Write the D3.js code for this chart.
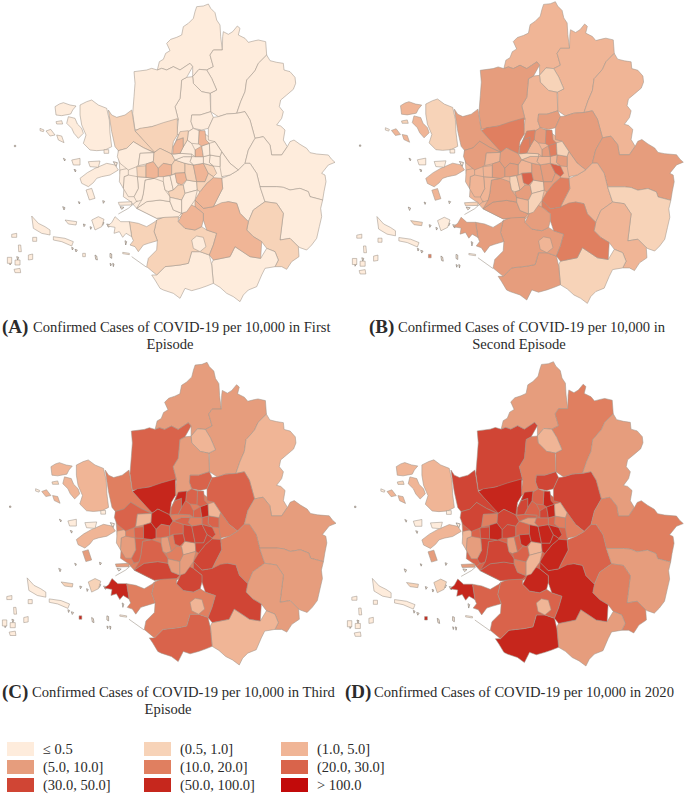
<!DOCTYPE html>
<html>
<head>
<meta charset="utf-8">
<script src="https://cdn.jsdelivr.net/npm/d3@7/dist/d3.min.js"></script>
<style>
html, body { margin: 0; padding: 0; background: #fff; }
text { font-family: "Liberation Serif", serif; fill: #2b2b2b; }
</style>
</head>
<body>
<svg id="chart" width="685" height="794">
  <defs><filter id="soft" x="-2%" y="-2%" width="104%" height="104%"><feGaussianBlur stdDeviation="0.4"></feGaussianBlur></filter></defs>
</svg>
<script>
// class breaks, lightest to darkest
const legendLabels = ["≤ 0.5", "(0.5, 1.0]", "(1.0, 5.0]", "(5.0, 10.0]", "(10.0, 20.0]", "(20.0, 30.0]", "(30.0, 50.0]", "(50.0, 100.0]", "> 100.0"];
const legendColors = ["#feecdc", "#f7d3b8", "#f0b596", "#e69d7d", "#e07f60", "#d9644b", "#d04534", "#c6271d", "#c20a0a"];

// district outlines (map units, drawn big to small)
const regionRings = [
  // metro underlay
  [[405,395],[465,455],[520,440],[540,395],[600,390],[645,425],[690,490],[665,535],[640,620],[585,620],[535,655],[470,655],[410,625],[392,605],[370,590],[372,560],[360,520],[355,450],[400,425]],
  // Yeoncheon
  [[472,210],[478,185],[490,178],[497,160],[510,152],[500,130],[512,118],[530,112],[545,105],[550,80],[565,70],[580,55],[585,35],[590,20],[610,18],[625,12],[632,25],[645,38],[650,60],[660,75],[662,110],[667,150],[640,150],[630,165],[640,200],[620,210],[597,208],[578,230],[578,200],[570,190],[555,200],[540,210],[520,200],[500,210],[485,205]],
  // Pocheon
  [[640,150],[667,150],[668,110],[670,95],[685,103],[698,95],[712,78],[720,85],[715,105],[735,115],[745,127],[765,122],[775,120],[797,125],[800,165],[775,190],[765,212],[745,235],[740,240],[735,275],[722,305],[710,340],[680,342],[655,350],[632,335],[632,285],[630,280],[650,270],[635,235],[620,210],[640,200],[630,165]],
  // Gapyeong
  [[800,165],[810,182],[830,187],[850,190],[852,210],[870,215],[885,232],[887,250],[880,268],[860,285],[842,300],[838,320],[850,335],[845,355],[830,375],[842,378],[855,390],[850,420],[862,440],[845,465],[815,465],[810,435],[790,410],[765,415],[750,360],[735,335],[710,340],[722,305],[735,275],[740,240],[745,235],[765,212],[775,190]],
  // Dongducheon
  [[597,208],[620,210],[635,235],[650,270],[630,280],[605,275],[580,250],[578,230]],
  // Yangju
  [[578,230],[580,250],[605,275],[630,280],[632,335],[600,345],[575,345],[573,365],[580,385],[565,395],[530,405],[535,360],[525,320],[540,295],[545,240],[560,232]],
  // Paju
  [[402,215],[440,210],[455,205],[472,210],[485,205],[500,210],[520,200],[540,210],[555,200],[570,190],[578,200],[560,232],[545,240],[540,295],[525,320],[535,360],[480,375],[455,380],[405,390],[398,340],[402,290],[405,250]],
  // Uijeongbu
  [[575,345],[600,345],[632,335],[640,352],[625,385],[605,390],[580,385],[573,365]],
  // Namyangju
  [[640,352],[655,350],[680,342],[710,340],[735,335],[750,360],[765,415],[745,450],[735,490],[715,510],[690,490],[665,455],[645,425],[625,420],[625,385]],
  // Goyang
  [[405,393],[420,385],[455,380],[490,368],[532,356],[532,405],[520,425],[515,462],[480,445],[462,458]],
  // Gimpo
  [[325,330],[335,345],[350,352],[375,345],[395,330],[405,393],[465,458],[430,443],[400,425],[380,445],[355,452],[345,440],[335,395]],
  // Yangpyeong
  [[790,410],[810,435],[815,465],[845,465],[862,440],[870,425],[882,420],[900,433],[920,445],[930,458],[950,462],[985,465],[995,478],[1005,487],[985,495],[965,520],[975,525],[978,545],[972,575],[968,600],[930,590],[925,575],[900,565],[870,570],[850,562],[830,560],[780,560],[770,520],[750,490],[735,490],[745,450],[765,415]],
  // Gwangju
  [[715,510],[735,490],[750,490],[770,520],[780,560],[795,605],[760,630],[745,665],[720,640],[710,610],[685,605],[640,620],[650,600],[668,565],[665,535],[690,525]],
  // Hanam
  [[665,455],[690,490],[715,510],[690,525],[665,530],[660,500],[660,470]],
  // Yeoju
  [[780,560],[830,560],[850,562],[870,570],[900,565],[925,575],[930,590],[968,600],[962,625],[965,650],[958,680],[950,715],[935,735],[920,750],[900,743],[895,740],[870,715],[840,720],[850,640],[830,610],[795,605]],
  // Icheon
  [[740,690],[745,665],[760,630],[795,605],[830,610],[850,640],[840,720],[870,715],[895,740],[897,770],[875,785],[860,808],[845,800],[825,800],[835,780],[825,755],[800,745],[785,725],[760,710]],
  // Anseong
  [[635,790],[640,780],[690,770],[705,740],[735,760],[750,770],[782,775],[800,745],[825,755],[835,780],[825,800],[795,805],[785,825],[770,860],[745,870],[730,885],[720,905],[700,890],[680,880],[660,862],[640,850]],
  // Pyeongtaek
  [[470,825],[495,800],[540,795],[565,790],[575,755],[600,755],[628,765],[635,795],[640,850],[620,858],[600,865],[575,872],[555,865],[540,895],[520,880],[490,870],[480,865],[465,840],[455,825]],
  // Hwaseong
  [[470,660],[495,650],[535,650],[535,665],[555,685],[585,690],[605,680],[620,690],[650,700],[640,735],[628,765],[600,755],[575,755],[565,790],[540,795],[495,800],[470,825],[440,800],[445,775],[470,750],[472,722],[462,695]],
  // Osan
  [[575,720],[590,708],[610,712],[618,740],[600,755],[580,745]],
  // Yongin
  [[585,600],[610,625],[640,620],[665,608],[685,605],[710,610],[720,640],[745,665],[740,690],[760,710],[785,725],[782,775],[750,770],[735,760],[705,740],[690,770],[640,780],[628,765],[640,735],[650,700],[620,690],[610,660],[610,640],[585,620]],
  // Seongnam
  [[640,533],[665,535],[668,565],[650,600],[640,620],[610,625],[585,600],[600,575],[620,550]],
  // Suwon
  [[555,620],[575,615],[585,620],[610,640],[610,660],[605,680],[585,690],[555,685],[535,665],[545,645]],
  // Ansan coast
  [[388,665],[415,670],[440,680],[465,665],[470,660],[462,695],[472,722],[445,730],[430,735],[415,755],[405,740],[390,735],[400,722],[395,710]],
  // Ansan
  [[410,625],[440,605],[480,600],[510,605],[520,630],[545,640],[535,650],[495,652],[470,655],[440,640]],
  // Siheung
  [[435,540],[462,535],[490,545],[495,570],[510,590],[510,605],[480,600],[440,605],[410,625],[425,600],[430,580]],
  // Namdong
  [[412,530],[438,532],[462,535],[435,540],[430,580],[425,600],[410,605],[402,590],[415,565]],
  // Yeonsu
  [[372,530],[385,525],[412,530],[415,565],[402,590],[385,590],[370,565]],
  // Jung-gu
  [[360,510],[385,505],[385,525],[372,530],[370,565],[358,545]],
  // Seo-gu
  [[355,452],[380,445],[400,425],[430,443],[462,458],[420,460],[415,495],[410,500],[385,510],[360,490],[352,470]],
  // Gyeyang
  [[420,460],[462,458],[460,485],[438,492],[415,497]],
  // Bupyeong
  [[410,500],[438,497],[438,532],[412,530]],
  // Bucheon
  [[438,492],[460,485],[475,505],[475,530],[462,535],[438,532]],
  // Gangseo
  [[462,458],[480,445],[515,462],[525,480],[515,495],[490,490],[475,505],[460,485]],
  // Guro
  [[475,505],[490,490],[515,495],[515,525],[490,530],[475,530]],
  // Yeongdeungpo
  [[515,495],[525,480],[555,490],[555,518],[525,520],[515,525]],
  // Gwangmyeong
  [[490,530],[510,527],[520,570],[505,575],[495,570],[490,545]],
  // Geumcheon
  [[510,527],[525,522],[535,555],[520,570]],
  // Gwanak
  [[525,520],[555,518],[560,540],[545,555],[530,548]],
  // Anyang
  [[520,570],[535,555],[550,555],[555,580],[545,600],[510,592],[505,575]],
  // Gunpo
  [[510,592],[545,600],[545,640],[520,630],[510,605]],
  // Gwacheon
  [[550,555],[560,540],[590,545],[592,570],[555,580]],
  // Uiwang
  [[555,580],[592,570],[585,600],[560,635],[545,640],[545,600]],
  // Seocho
  [[555,490],[580,495],[590,545],[560,540],[555,518]],
  // Gangnam
  [[580,495],[610,490],[625,520],[615,545],[590,545]],
  // Songpa
  [[610,490],[640,498],[650,520],[640,530],[625,520]],
  // Sujeong
  [[590,545],[615,545],[625,520],[640,530],[640,533],[620,550],[600,575],[592,570]],
  // Gangdong
  [[630,465],[660,470],[660,500],[640,498],[628,488]],
  // Gwangjin
  [[610,470],[630,465],[628,488],[640,498],[610,490]],
  // Seongdong
  [[575,470],[610,470],[610,490],[580,495],[570,485]],
  // Yongsan
  [[525,480],[550,470],[575,470],[570,485],[580,495],[555,490]],
  // Jongno
  [[515,462],[525,462],[540,460],[575,462],[575,470],[550,470],[525,480]],
  // Dongdaemun
  [[585,450],[605,438],[610,470],[585,470]],
  // Seongbuk
  [[550,440],[562,420],[575,430],[585,450],[585,470],[575,462],[540,460]],
  // Jungnang
  [[605,438],[628,430],[630,465],[610,470]],
  // Guri
  [[628,430],[645,425],[665,455],[660,470],[630,465]],
  // Nowon
  [[597,392],[615,392],[618,420],[628,430],[605,438],[595,432]],
  // Dobong
  [[565,395],[580,385],[597,392],[595,432],[575,430],[562,420]],
  // Deogyang
  [[520,440],[530,420],[550,413],[550,440],[540,460],[518,462]],
  // Eunpyeong
  [[540,395],[565,392],[562,420],[550,440],[550,413],[530,420]],
  // Ganghwa and the islands
  [[240,315],[260,305],[275,300],[295,315],[320,325],[328,360],[330,400],[335,440],[315,450],[290,452],[270,450],[250,430],[258,405],[245,375],[240,345]],
  [[165,320],[178,312],[190,308],[210,315],[228,318],[218,330],[212,342],[185,347],[168,345]],
  [[205,350],[225,355],[232,372],[245,385],[250,400],[235,415],[222,400],[215,385],[200,370]],
  [[240,535],[262,518],[285,505],[320,490],[345,495],[355,510],[330,525],[305,530],[290,535],[280,548],[265,560],[245,550]],
  [[258,570],[275,565],[285,595],[268,600]],
  [[345,650],[362,665],[388,665],[395,710],[378,700],[368,712],[358,695],[342,700],[345,682],[322,678],[335,668]],
  [[275,660],[295,650],[312,658],[305,680],[285,690]],
  [[95,648],[115,670],[135,680],[150,690],[150,705],[125,700],[100,685]],
  [[215,480],[240,475],[240,495],[220,495]],
  [[265,485],[300,483],[295,502],[270,500]],
  [[195,660],[230,665],[228,675],[205,672]],
  [[160,710],[195,715],[220,725],[215,738],[185,725],[160,720]],
  [[138,393],[152,388],[165,405],[150,408]],
  [[170,405],[185,408],[192,428],[175,420]],
  [[120,385],[132,390],[130,395],[120,392]],
  [[168,365],[185,362],[188,372],[170,372]],
  [[85,765],[98,762],[98,778],[85,780]],
  [[98,712],[110,712],[110,724],[98,724]],
  [[42,808],[60,805],[62,818],[45,818]],
  [[22,772],[35,772],[35,790],[22,790]],
  [[45,780],[60,780],[60,795],[45,795]],
  [[55,735],[62,735],[64,755],[56,755]],
  [[35,703],[50,700],[50,712],[35,712]],
  [[248,760],[256,760],[256,770],[248,770]],
  [[312,449],[326,449],[326,460],[312,460]],
  [[355,607],[395,605],[395,615],[358,616]],
  [[368,757],[388,760],[388,764],[368,761]]
];

// class index of every ring in each episode, same order as regionRings
const classesA = [0,0,0,0,0,0,0,0,0,1,1,0,0,0,0,1,0,0,1,0,2,2,2,1,0,0,0,0,0,0,0,1,2,1,2,1,0,0,2,1,0,0,0,1,2,1,1,0,0,0,0,0,2,0,0,0,2,0,2,1,0,0,0,0,0,0,0,0,0,0,0,0,0,0,0,0,0,0,0,0,0,0,0,0,0,0,0,0];
const classesB = [2,2,2,2,1,2,3,3,3,4,3,3,2,2,1,2,1,3,3,2,4,4,3,3,3,3,2,2,2,3,2,2,3,3,3,2,1,2,5,3,2,1,1,3,3,5,3,3,2,2,2,1,3,2,4,1,4,3,4,4,1,2,2,2,2,3,0,0,0,0,1,0,2,2,0,1,0,0,0,0,0,0,0,4,0,1,0,0];
const classesC = [4,3,3,2,2,3,5,5,5,7,4,3,4,4,3,3,2,5,4,2,6,6,6,4,6,5,5,3,2,5,2,5,7,7,5,5,3,4,6,4,3,2,3,6,6,6,6,5,5,4,5,4,5,5,7,2,5,5,5,7,2,2,2,2,3,7,1,0,0,0,1,0,2,2,0,1,0,0,0,0,0,0,0,7,0,3,0,0];
const classesD = [5,3,4,3,2,4,6,6,6,7,6,4,5,4,3,4,3,7,5,2,7,7,7,5,6,6,6,3,2,6,4,6,7,6,6,5,3,5,7,5,4,2,2,7,7,7,7,4,5,5,3,5,6,5,7,2,7,5,6,7,2,2,2,2,3,7,1,0,0,0,1,0,2,2,0,1,0,0,0,0,0,0,0,7,0,3,0,0];

const episodeClasses = [classesA, classesB, classesC, classesD];

// tiny rocks, outlined only
const isletRings = [
  [[43,436],[47,436],[47,440],[43,440]], [[190,475],[196,478],[194,483]], [[222,508],[228,510],[226,516]],
  [[188,620],[195,623],[192,630]], [[308,602],[314,604],[310,610]], [[250,672],[256,674],[252,680]],
  [[270,680],[275,682],[272,688]], [[285,765],[290,768],[292,780],[287,778]], [[330,760],[335,762],[335,775],[330,772]],
  [[338,790],[342,792],[340,800]], [[375,722],[380,725],[377,735]], [[372,688],[378,690],[375,698]],
  [[300,665],[312,668],[308,676]], [[225,748],[232,750],[228,756]], [[215,742],[220,744],[217,750]],
  [[320,672],[330,674],[326,682]], [[340,485],[352,488],[348,500]], [[362,515],[372,518],[370,535],[362,530]],
  [[365,540],[375,542],[372,558]], [[28,785],[34,788],[30,795]], [[50,770],[56,772],[53,780]],
  [[235,605],[240,607],[238,612]], [[330,790],[334,792],[332,798]], [[360,620],[372,622],[365,628]]
];

// thin causeway lines off the coast
const causeways = [
  [[355,642],[385,625],[412,602]],
  [[395,770],[440,802]]
];

// panel placement: map units on the left, page pixels on the right
const panelX = [[20, 1005, 6.7, 335], [20, 1005, 351.7, 683.3], [20, 1005, 1.7, 336], [20, 1005, 346.7, 683.3]];
const panelY = [[12, 900, 4, 300], [12, 900, 1.7, 301.7], [12, 900, 362.3, 663.3], [12, 900, 361.7, 664.3]];

const captionBold = ["(A)", "(B)", "(C)", "(D)"];
const captionLines = [
  ["Confirmed Cases of COVID-19 per 10,000 in First", "Episode"],
  ["Confirmed Cases of COVID-19 per 10,000 in", "Second Episode"],
  ["Confirmed Cases of COVID-19 per 10,000 in Third", "Episode"],
  ["Confirmed Cases of COVID-19 per 10,000 in 2020"]
];

let svg = d3.select("#chart");

function drawPanel(i) {
  let x = d3.scaleLinear().domain(panelX[i].slice(0, 2)).range(panelX[i].slice(2));
  let y = d3.scaleLinear().domain(panelY[i].slice(0, 2)).range(panelY[i].slice(2));
  let ringPath = d3.line().x(d => x(d[0])).y(d => y(d[1])).curve(d3.curveLinearClosed);
  let linePath = d3.line().x(d => x(d[0])).y(d => y(d[1]));

  let g = svg.append("g").attr("class", "panel").attr("filter", "url(#soft)");

  g.selectAll("path.islet")
    .data(isletRings)
    .enter()
    .append("path")
    .attr("class", "islet")
    .attr("d", ringPath)
    .style("fill", legendColors[0])
    .style("stroke", "#7d756d")
    .style("stroke-width", "0.6px");

  g.selectAll("path.region")
    .data(regionRings)
    .enter()
    .append("path")
    .attr("class", "region")
    .attr("d", ringPath)
    .style("fill", (d, k) => legendColors[episodeClasses[i][k]])
    .style("stroke", "#a0958a")
    .style("stroke-width", "0.55px")
    .style("stroke-linejoin", "round");

  g.selectAll("path.causeway")
    .data(causeways)
    .enter()
    .append("path")
    .attr("class", "causeway")
    .attr("d", linePath)
    .style("fill", "none")
    .style("stroke", "#a0958a")
    .style("stroke-width", "0.6px");
}

const captionX = [[2, 33, 170], [369, 398, 519], [2, 32, 168], [345, 374, 0]];
const captionY = [332, 332, 697, 697];

function drawCaption(i) {
  svg.append("text")
    .attr("x", captionX[i][0])
    .attr("y", captionY[i] + 1)
    .style("font-size", "19px")
    .style("font-weight", "bold")
    .text(captionBold[i]);
  svg.append("text")
    .attr("x", captionX[i][1])
    .attr("y", captionY[i])
    .style("font-size", "14.6px")
    .text(captionLines[i][0]);
  if (captionLines[i][1]) {
    svg.append("text")
      .attr("x", captionX[i][2])
      .attr("y", captionY[i] + 17)
      .style("text-anchor", "middle")
      .style("font-size", "14.6px")
      .text(captionLines[i][1]);
  }
}

function drawLegend() {
  let col = d3.scalePoint().domain([0, 1, 2]).range([7, 281]);
  let row = d3.scalePoint().domain([0, 1, 2]).range([742, 778]);
  let items = svg.selectAll("g.key")
    .data(legendLabels)
    .enter()
    .append("g")
    .attr("class", "key")
    .attr("transform", (d, i) => `translate(${col(i % 3)},${row(Math.floor(i / 3))})`);
  items.append("rect")
    .attr("width", 27)
    .attr("height", 14)
    .style("fill", (d, i) => legendColors[i]);
  items.append("text")
    .attr("x", 36)
    .attr("y", 11.5)
    .style("font-size", "14.5px")
    .text(d => d);
}

episodeClasses.forEach((c, i) => {
  drawPanel(i);
  drawCaption(i);
});
drawLegend();
</script>
</body>
</html>
